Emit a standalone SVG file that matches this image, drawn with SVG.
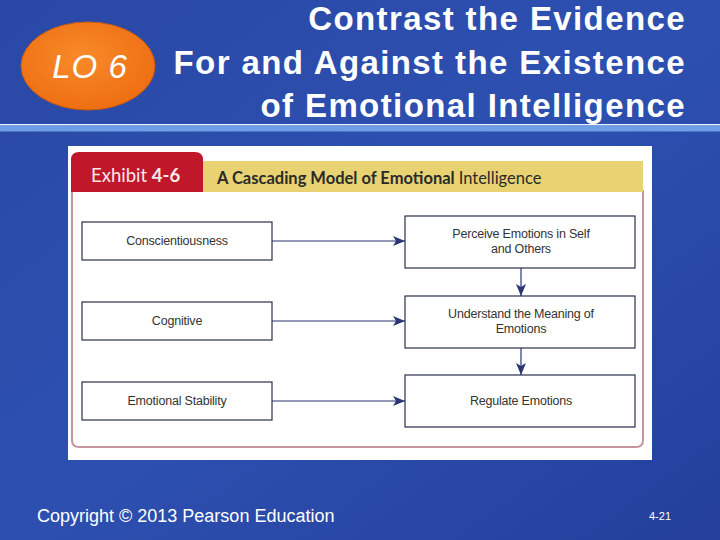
<svg xmlns="http://www.w3.org/2000/svg" width="720" height="540" viewBox="0 0 720 540">
<defs>
<linearGradient id="bg" x1="0" y1="0" x2="1" y2="1">
<stop offset="0" stop-color="#2a48a6"/>
<stop offset="0.5" stop-color="#2d50b0"/>
<stop offset="1" stop-color="#243f9c"/>
</linearGradient>
<radialGradient id="lo" cx="0.45" cy="0.4" r="0.6">
<stop offset="0" stop-color="#f88a2a"/>
<stop offset="1" stop-color="#ee6f12"/>
</radialGradient>
<marker id="ah" viewBox="0 0 12 10" refX="12" refY="5" markerWidth="12" markerHeight="10" markerUnits="userSpaceOnUse" orient="auto">
<path d="M0,0 L12,5 L0,10 L3,5 Z" fill="#2b3576"/>
</marker>
</defs>
<style>
.title{font-family:"Liberation Sans",Arial,sans-serif;font-weight:bold;font-size:33px;letter-spacing:1.4px;fill:#ffffff}
.box{fill:#ffffff;stroke:#2a2f4a;stroke-width:1.2}
.lbl{font-family:"Liberation Sans Narrow","Liberation Sans",Arial,sans-serif;font-size:12.5px;fill:#333;letter-spacing:-0.2px}
.conn{stroke:#2b3576;stroke-width:1.2;fill:none;marker-end:url(#ah)}
</style>
<rect width="720" height="540" fill="url(#bg)"/>
<rect x="0" y="124" width="720" height="1.5" fill="#e8f0ff"/>
<rect x="0" y="125.5" width="720" height="6" fill="#6e9ee6"/>
<g id="lo6">
<ellipse cx="88" cy="66" rx="67" ry="44" fill="url(#lo)" stroke="#c85a10" stroke-width="1"/>
<text x="90" y="78" text-anchor="middle" font-family="Liberation Sans,Arial,sans-serif" font-style="italic" font-size="33" letter-spacing="1" fill="#ffffff">LO 6</text>
</g>
<g id="title">
<text class="title" x="686" y="30" text-anchor="end">Contrast the Evidence</text>
<text class="title" x="686" y="74" text-anchor="end">For and Against the Existence</text>
<text class="title" x="686" y="117" text-anchor="end">of Emotional Intelligence</text>
</g>
<g id="exhibit">
<rect x="68" y="146" width="584" height="314" fill="#ffffff"/>
<path d="M72,190 L72,440 Q72,447 79,447 L636,447 Q643,447 643,440 L643,190" fill="none" stroke="#c4959c" stroke-width="2"/>
<rect x="203" y="161" width="440" height="31" fill="#e8d272"/>
<path d="M71,192 L71,160 Q71,152 79,152 L195,152 Q203,152 203,160 L203,192 Z" fill="#c0182a"/>
<text x="91" y="182" font-family="Lato,'Liberation Sans',sans-serif" font-size="18.5" fill="#f8e8ea">Exhibit <tspan font-weight="bold">4-6</tspan></text>
<text x="217" y="184" font-family="Lato,'Liberation Sans',sans-serif" font-size="16.5" font-weight="bold" fill="#2a2a2a">A Cascading Model of Emotional <tspan font-weight="normal">Intelligence</tspan></text>
</g>
<g id="connectors">
<line class="conn" x1="272" y1="241" x2="405" y2="241"/>
<line class="conn" x1="272" y1="321" x2="405" y2="321"/>
<line class="conn" x1="272" y1="401" x2="405" y2="401"/>
<line class="conn" x1="521" y1="268" x2="521" y2="296"/>
<line class="conn" x1="521" y1="348" x2="521" y2="375"/>
</g>
<g id="conscientiousness">
<rect class="box" x="82" y="222" width="190" height="38"/>
<text class="lbl" x="177" y="245" text-anchor="middle">Conscientiousness</text>
</g>
<g id="cognitive">
<rect class="box" x="82" y="302" width="190" height="38"/>
<text class="lbl" x="177" y="325" text-anchor="middle">Cognitive</text>
</g>
<g id="stability">
<rect class="box" x="82" y="382" width="190" height="38"/>
<text class="lbl" x="177" y="405" text-anchor="middle">Emotional Stability</text>
</g>
<g id="perceive">
<rect class="box" x="405" y="216" width="230" height="52"/>
<text class="lbl" x="521" y="238" text-anchor="middle">Perceive Emotions in Self</text>
<text class="lbl" x="521" y="253" text-anchor="middle">and Others</text>
</g>
<g id="understand">
<rect class="box" x="405" y="296" width="230" height="52"/>
<text class="lbl" x="521" y="318" text-anchor="middle">Understand the Meaning of</text>
<text class="lbl" x="521" y="333" text-anchor="middle">Emotions</text>
</g>
<g id="regulate">
<rect class="box" x="405" y="375" width="230" height="52" stroke-width="2"/>
<text class="lbl" x="521" y="405" text-anchor="middle">Regulate Emotions</text>
</g>
<g id="footer">
<text x="37" y="522" font-family="Liberation Sans,Arial,sans-serif" font-size="18" fill="#ffffff">Copyright © 2013 Pearson Education</text>
<text x="660" y="520" text-anchor="middle" font-family="Liberation Sans,Arial,sans-serif" font-size="11" fill="#ffffff">4-21</text>
</g>
</svg>
